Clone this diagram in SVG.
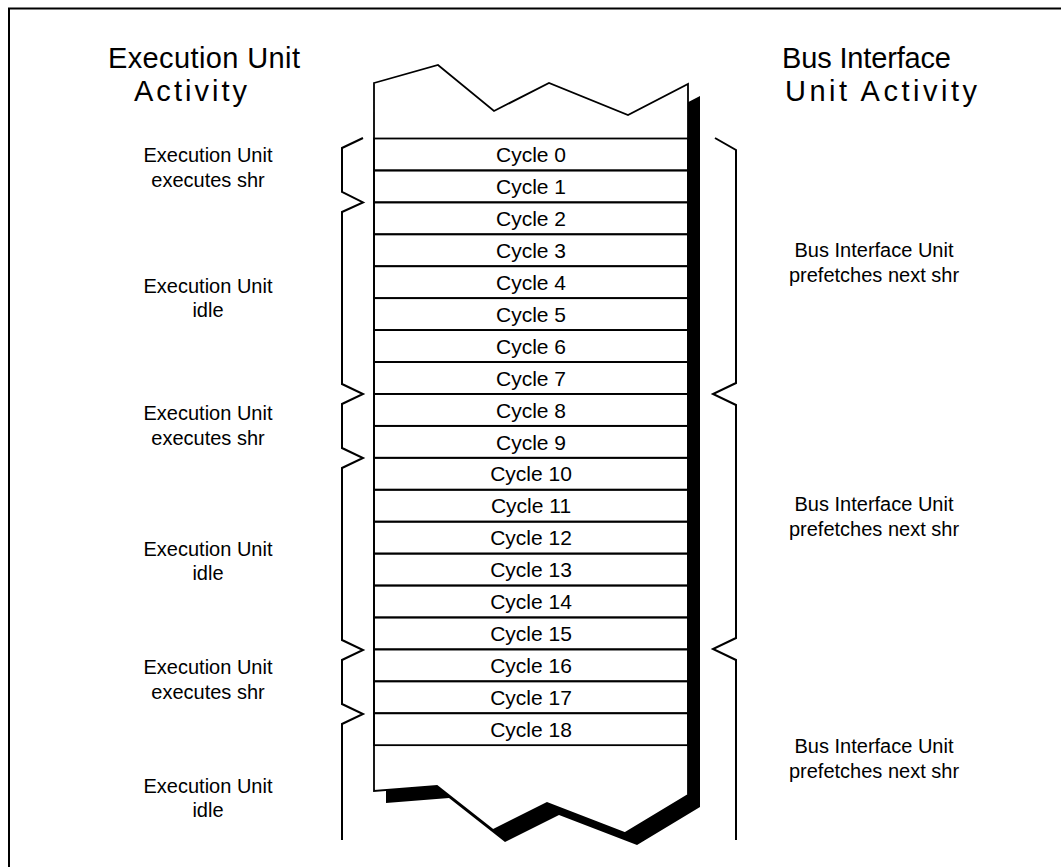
<svg xmlns="http://www.w3.org/2000/svg" width="1061" height="867" viewBox="0 0 1061 867">
<style>
text{font-family:"Liberation Sans",Arial,sans-serif;fill:#000}
.h{font-size:29px}
.l{font-size:20px;text-anchor:middle}
.c{font-size:21px;text-anchor:middle}
.row{fill:none;stroke:#000;stroke-width:1.8}
.br{fill:none;stroke:#000;stroke-width:2;stroke-linejoin:miter}
</style>
<rect width="1061" height="867" fill="#fff"/>
<path d="M9,867 V8.5 H1061" fill="none" stroke="#000" stroke-width="2"/>
<g id="headings">
<text class="h" x="108" y="68" textLength="192" lengthAdjust="spacing">Execution Unit</text>
<text class="h" x="134" y="101" textLength="113" lengthAdjust="spacing">Activity</text>
<text class="h" x="782" y="68" textLength="169" lengthAdjust="spacing">Bus Interface</text>
<text class="h" x="785" y="101" textLength="192" lengthAdjust="spacing">Unit Activity</text>
</g>
<g id="column">
<polygon points="386,95 450,77 506,123 561,95 640,127 700,96 700,807 637,845 559,815 505,842 449,798 386,803" fill="#000"/>
<polygon points="374,83 438,65 494,111 549,83 628,115 688,84 688,795 625,833 547,803 493,830 437,786 374,791" fill="#fff" stroke="#000" stroke-width="1.8" stroke-linejoin="miter"/>
</g>
<g id="cycles">
<g id="cycle-0"><rect class="row" x="374" y="138.5" width="314" height="31.93"/><text class="c" x="531" y="162">Cycle 0</text></g>
<g id="cycle-1"><rect class="row" x="374" y="170.43" width="314" height="31.93"/><text class="c" x="531" y="194">Cycle 1</text></g>
<g id="cycle-2"><rect class="row" x="374" y="202.36" width="314" height="31.93"/><text class="c" x="531" y="226">Cycle 2</text></g>
<g id="cycle-3"><rect class="row" x="374" y="234.29" width="314" height="31.93"/><text class="c" x="531" y="258">Cycle 3</text></g>
<g id="cycle-4"><rect class="row" x="374" y="266.22" width="314" height="31.93"/><text class="c" x="531" y="290">Cycle 4</text></g>
<g id="cycle-5"><rect class="row" x="374" y="298.15" width="314" height="31.93"/><text class="c" x="531" y="322">Cycle 5</text></g>
<g id="cycle-6"><rect class="row" x="374" y="330.08" width="314" height="31.93"/><text class="c" x="531" y="354">Cycle 6</text></g>
<g id="cycle-7"><rect class="row" x="374" y="362.01" width="314" height="31.93"/><text class="c" x="531" y="386">Cycle 7</text></g>
<g id="cycle-8"><rect class="row" x="374" y="393.94" width="314" height="31.93"/><text class="c" x="531" y="418">Cycle 8</text></g>
<g id="cycle-9"><rect class="row" x="374" y="425.87" width="314" height="31.93"/><text class="c" x="531" y="450">Cycle 9</text></g>
<g id="cycle-10"><rect class="row" x="374" y="457.8" width="314" height="31.93"/><text class="c" x="531" y="481">Cycle 10</text></g>
<g id="cycle-11"><rect class="row" x="374" y="489.73" width="314" height="31.93"/><text class="c" x="531" y="513">Cycle 11</text></g>
<g id="cycle-12"><rect class="row" x="374" y="521.66" width="314" height="31.93"/><text class="c" x="531" y="545">Cycle 12</text></g>
<g id="cycle-13"><rect class="row" x="374" y="553.59" width="314" height="31.93"/><text class="c" x="531" y="577">Cycle 13</text></g>
<g id="cycle-14"><rect class="row" x="374" y="585.52" width="314" height="31.93"/><text class="c" x="531" y="609">Cycle 14</text></g>
<g id="cycle-15"><rect class="row" x="374" y="617.45" width="314" height="31.93"/><text class="c" x="531" y="641">Cycle 15</text></g>
<g id="cycle-16"><rect class="row" x="374" y="649.38" width="314" height="31.93"/><text class="c" x="531" y="673">Cycle 16</text></g>
<g id="cycle-17"><rect class="row" x="374" y="681.31" width="314" height="31.93"/><text class="c" x="531" y="705">Cycle 17</text></g>
<g id="cycle-18"><rect class="row" x="374" y="713.24" width="314" height="31.93"/><text class="c" x="531" y="737">Cycle 18</text></g>
</g>
<g id="connectors">
<polyline class="br" points="363,138 342,148 342,192 363,202.4 342,212 342,384 363,394 342,404 342,448 363,458 342,468 342,640 363,650 342,660 342,704 363,714 342,724 342,840"/>
<polyline class="br" points="715,138 736,150 736,383 713,394 736,405 736,638 713,649 736,660 736,840"/>
</g>
<g id="eu-1"><text class="l" x="208" y="162">Execution Unit</text><text class="l" x="208" y="187">executes shr</text></g>
<g id="eu-2"><text class="l" x="208" y="293">Execution Unit</text><text class="l" x="208" y="317">idle</text></g>
<g id="eu-3"><text class="l" x="208" y="420">Execution Unit</text><text class="l" x="208" y="445">executes shr</text></g>
<g id="eu-4"><text class="l" x="208" y="556">Execution Unit</text><text class="l" x="208" y="580">idle</text></g>
<g id="eu-5"><text class="l" x="208" y="674">Execution Unit</text><text class="l" x="208" y="699">executes shr</text></g>
<g id="eu-6"><text class="l" x="208" y="793">Execution Unit</text><text class="l" x="208" y="817">idle</text></g>
<g id="biu-1"><text class="l" x="874" y="257">Bus Interface Unit</text><text class="l" x="874" y="282">prefetches next shr</text></g>
<g id="biu-2"><text class="l" x="874" y="511">Bus Interface Unit</text><text class="l" x="874" y="536">prefetches next shr</text></g>
<g id="biu-3"><text class="l" x="874" y="753">Bus Interface Unit</text><text class="l" x="874" y="778">prefetches next shr</text></g>
</svg>
